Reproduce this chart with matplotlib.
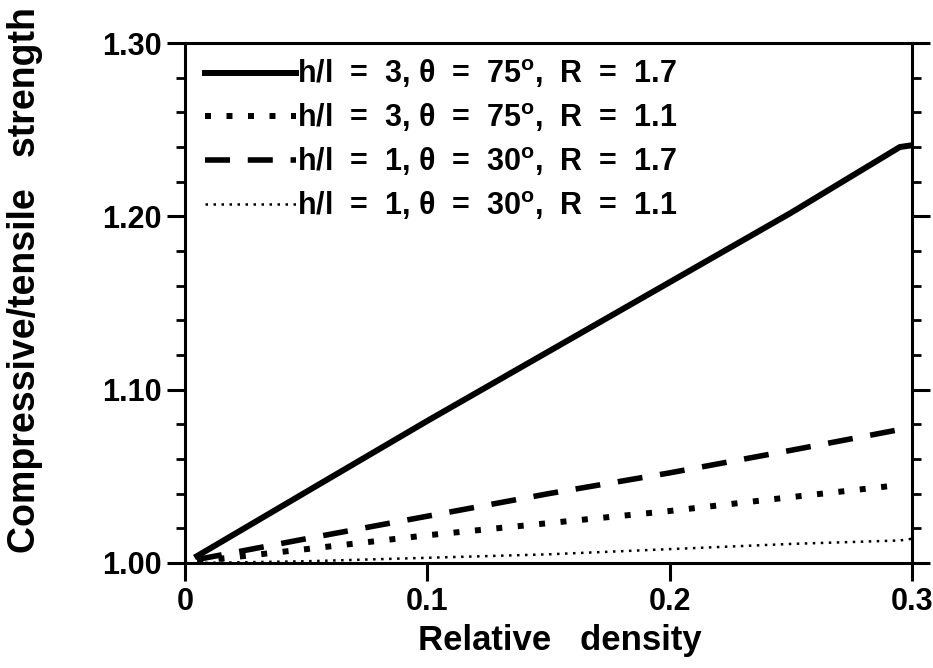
import matplotlib.pyplot as plt
from matplotlib.ticker import MultipleLocator

plt.rcParams['font.family'] = ['Liberation Sans', 'DejaVu Sans']
plt.rcParams['font.weight'] = 'bold'
plt.rcParams['mathtext.fontset'] = 'custom'
plt.rcParams['mathtext.rm'] = 'Liberation Sans:bold'
plt.rcParams['mathtext.it'] = 'Liberation Sans:bold'

# relative density
density = [0.005, 0.05, 0.1, 0.15, 0.2, 0.25, 0.295, 0.3]
# compressive / tensile strength ratio
s_h3_t75_r17 = [1.004, 1.041, 1.082, 1.122, 1.162, 1.202, 1.240, 1.241]
s_h3_t75_r11 = [1.001, 1.008, 1.016, 1.023, 1.030, 1.038, 1.045]
s_h1_t30_r17 = [1.002, 1.014, 1.027, 1.040, 1.052, 1.065, 1.077, 1.078]
s_h1_t30_r11 = [1.000, 1.001, 1.003, 1.005, 1.008, 1.011, 1.013, 1.014]

labels = [r'h/l  =  3, $\theta$  =  75$^{\rm o}$,  R  =  1.7',
          r'h/l  =  3, $\theta$  =  75$^{\rm o}$,  R  =  1.1',
          r'h/l  =  1, $\theta$  =  30$^{\rm o}$,  R  =  1.7',
          r'h/l  =  1, $\theta$  =  30$^{\rm o}$,  R  =  1.1']

fig = plt.figure(figsize=(9.33, 6.68), dpi=100)
ax = fig.add_axes([0.1983, 0.1572, 0.7792, 0.7784])

ax.plot(density, s_h3_t75_r17, color='black', lw=4.3, ls='-', label=labels[0])
ax.plot(density[:len(s_h3_t75_r11)], s_h3_t75_r11, color='black', lw=4.3,
        ls=(0, (1, 2.6)), label=labels[1])
ax.plot(density, s_h1_t30_r17, color='black', lw=4.0, ls=(0, (4.5, 3.2)), label=labels[2])
ax.plot(density, s_h1_t30_r11, color='black', lw=1.8, ls=(0, (1, 2.2)), label=labels[3])

ax.set_xlim(0, 0.3)
ax.set_ylim(1.0, 1.3)
ax.set_xticks([0, 0.1, 0.2, 0.3])
ax.set_xticklabels(['0', '0.1', '0.2', '0.3'])
ax.set_yticks([1.0, 1.1, 1.2, 1.3])
ax.set_yticklabels(['1.00', '1.10', '1.20', '1.30'])
ax.yaxis.set_minor_locator(MultipleLocator(0.02))

for sp in ax.spines.values():
    sp.set_linewidth(2.2)
ax.tick_params(axis='both', which='major', direction='out', length=13, width=2.2,
               labelsize=22, pad=4)
ax.tick_params(axis='y', which='both', left=True, right=True)
ax.tick_params(axis='y', which='minor', direction='out', length=6.5, width=2)

ax.set_xlabel('Relative   density', fontsize=25, fontweight='bold')
ax.xaxis.set_label_coords(0.516, -0.118)
ax.set_ylabel('Compressive/tensile   strength', fontsize=27, fontweight='bold')
ax.yaxis.set_label_coords(-0.196, 0.544)

ax.legend(loc='upper left', frameon=False, fontsize=22, handlelength=2.95,
          handletextpad=0.05, labelspacing=0.36, borderaxespad=0, borderpad=0,
          bbox_to_anchor=(0.028, 0.972))

fig.savefig('out.png', dpi=100)
